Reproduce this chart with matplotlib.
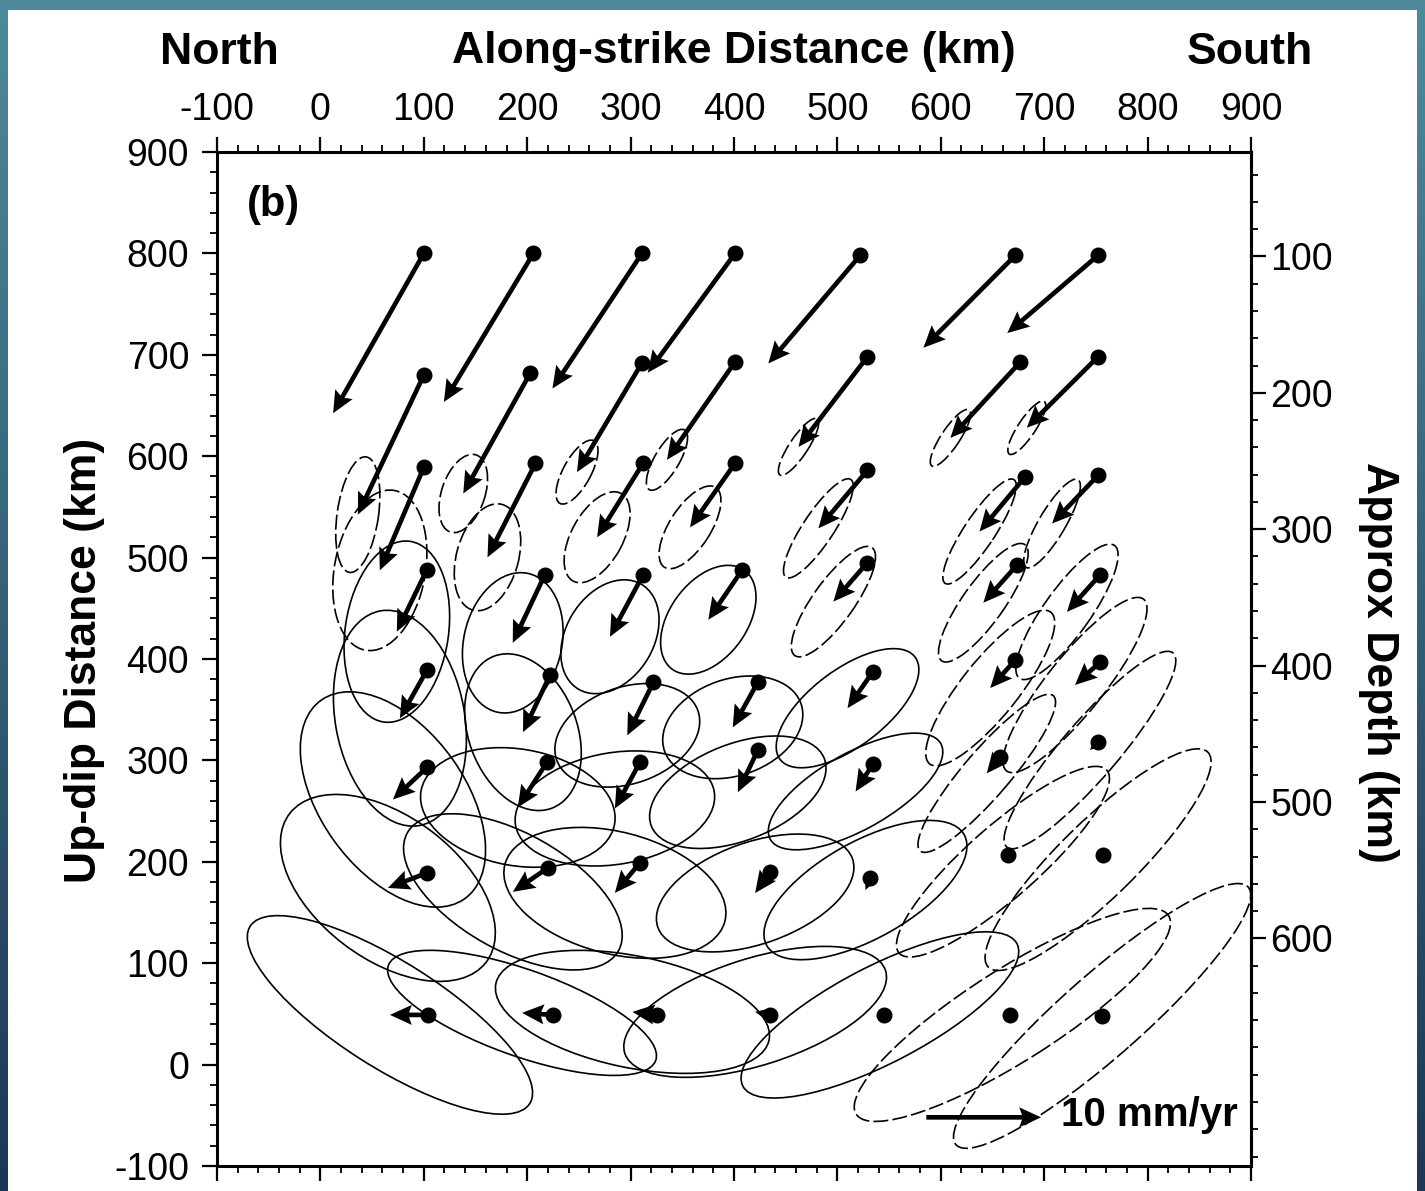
import numpy as np
import matplotlib
matplotlib.use("Agg")
import matplotlib.pyplot as plt
from matplotlib.patches import Ellipse, Rectangle
from matplotlib.ticker import MultipleLocator, FixedLocator

plt.rcParams['font.family'] = ['Liberation Sans', 'DejaVu Sans']
plt.rcParams['axes.unicode_minus'] = False

# ---- data: grid points (along-strike km, up-dip km), rates (mm/yr), error ellipses (km, deg) ----
ROW_X = [
    [100, 206, 311, 401, 522, 672, 752],
    [100, 203, 311, 401, 529, 677, 752],
    [100, 208, 312, 401, 529, 681, 752],
    [103, 217, 312, 408, 529, 674, 754],
    [103, 222, 322, 423, 534, 672, 754],
    [103, 219, 309, 423, 534, 657, 752],
    [103, 220, 309, 435, 532, 665, 757],
    [104, 225, 326, 435, 545, 667, 756],
]
ROW_Y = [
    [800, 800, 800, 800, 798, 798, 798],
    [680, 682, 692, 693, 698, 693, 698],
    [589, 593, 593, 593, 586, 579, 581],
    [488, 483, 483, 488, 495, 493, 483],
    [389, 384, 377, 377, 387, 399, 397],
    [293, 298, 298, 310, 296, 303, 318],
    [189, 194, 199, 190, 184, 207, 207],
    [49, 49, 49, 49, 49, 49, 48],
]
RATE_E = [
    [-7.9, -7.8, -7.8, -7.6, -8.0, -8.0, -7.9],
    [-5.75, -5.84, -5.66, -5.93, -6.0, -6.1, -6.2],
    [-3.83, -4.18, -4.0, -3.92, -4.27, -3.92, -4.0],
    [-2.62, -2.79, -2.88, -2.96, -2.96, -2.96, -2.88],
    [-2.35, -2.35, -2.27, -2.18, -2.18, -2.18, -2.18],
    [-2.96, -2.53, -2.18, -1.74, -1.48, -1.13, -0.7],
    [-3.4, -3.05, -2.18, -1.31, -0.44, -0.44, -0.44],
    [-3.31, -2.7, -2.18, -1.31, -0.35, 0.2, 0.0],
]
RATE_N = [
    [-14.2, -13.2, -12.0, -10.6, -9.6, -8.2, -6.9],
    [-12.4, -10.7, -9.7, -8.7, -8.0, -6.75, -6.3],
    [-9.15, -8.35, -6.57, -5.69, -5.15, -4.8, -4.27],
    [-5.5, -6.04, -5.5, -4.44, -3.46, -3.38, -3.29],
    [-4.27, -5.06, -4.71, -4.0, -3.2, -2.49, -2.04],
    [-2.84, -4.0, -4.09, -3.73, -2.4, -1.42, -0.7],
    [-1.33, -2.13, -2.67, -1.87, -1.07, -0.62, -0.44],
    [0.0, 0.18, 0.27, 0.27, 0.0, 0.0, 0.0],
]
ELL_MAJOR = [
    [0, 0, 0, 0, 0, 0, 0],
    [115, 80, 70, 68, 66, 66, 62],
    [160, 108, 98, 93, 115, 122, 100],
    [180, 140, 120, 120, 130, 140, 160],
    [215, 160, 145, 140, 165, 190, 215],
    [240, 190, 195, 180, 190, 200, 250],
    [240, 235, 220, 200, 220, 270, 300],
    [322, 275, 270, 265, 300, 360, 380],
]
ELL_MINOR = [
    [0, 0, 0, 0, 0, 0, 0],
    [40, 42, 27, 24, 18, 18, 17],
    [88, 60, 50, 40, 30, 30, 26],
    [100, 95, 85, 75, 40, 40, 45],
    [125, 105, 95, 95, 75, 55, 55],
    [140, 115, 110, 95, 75, 45, 55],
    [140, 115, 120, 100, 95, 70, 75],
    [104, 85, 110, 105, 95, 90, 80],
]
ELL_ANGLE = [
    [0, 0, 0, 0, 0, 0, 0],
    [82, 72, 62, 60, 57, 57, 57],
    [80, 75, 62, 58, 57, 57, 60],
    [82, 78, 60, 55, 55, 55, 55],
    [100, 110, 20, 20, 38, 52, 52],
    [125, 170, 10, 22, 30, 50, 50],
    [142, 150, 165, 20, 30, 42, 45],
    [-33, -20, -12, 18, 28, 33, 42],
]
REF_RATE = 10.0          # mm/yr, scale arrow
KM_PER_MM = 11.1         # plotted arrow length (km) per mm/yr

# depth (km) vs up-dip distance (km) for the right-hand axis
DEPTH_LABELS = [100, 200, 300, 400, 500, 600]


def to_depth(u):
    return 100.0 + (797.0 - np.asarray(u, dtype=float)) / 1.345


def from_depth(d):
    return 797.0 - (np.asarray(d, dtype=float) - 100.0) * 1.345


W, H = 1425, 1191
fig = plt.figure(figsize=(W / 100, H / 100), dpi=100)

# slide-style backdrop with white panel
bg = fig.add_axes([0, 0, 1, 1], zorder=-10)
top_c = np.array([0x4e, 0x8a, 0x9c]) / 255
bot_c = np.array([0x1c, 0x37, 0x55]) / 255
t = np.linspace(0, 1, 256)[:, None, None]
grad = top_c[None, None, :] * (1 - t) + bot_c[None, None, :] * t
grad = np.repeat(grad, 2, axis=1)
bg.imshow(grad, aspect='auto', extent=[0, 1, 0, 1], origin='upper')
bg.add_patch(Rectangle((8 / W, 0), (1417 - 8) / W, 1 - 10 / H,
                       facecolor='white', edgecolor='none', transform=bg.transAxes))
bg.set_xlim(0, 1)
bg.set_ylim(0, 1)
bg.axis('off')

ax = fig.add_axes([217 / W, 1 - 1166 / H, 1034 / W, 1014 / H])
ax.set_xlim(-100, 900)
ax.set_ylim(-100, 900)
ax.set_facecolor('white')

x = np.array(ROW_X, dtype=float).ravel()
y = np.array(ROW_Y, dtype=float).ravel()
ue = np.array(RATE_E, dtype=float).ravel()
vn = np.array(RATE_N, dtype=float).ravel()
maj = np.array(ELL_MAJOR, dtype=float).ravel()
mnr = np.array(ELL_MINOR, dtype=float).ravel()
ang = np.array(ELL_ANGLE, dtype=float).ravel()

nrow, ncol = len(ROW_X), len(ROW_X[0])
for r in range(nrow):
    for c in range(ncol):
        i = r * ncol + c
        if maj[i] <= 0:
            continue
        cx = x[i] + ue[i] * KM_PER_MM
        cy = y[i] + vn[i] * KM_PER_MM
        dashed = ROW_Y[r][0] >= 580 or c >= 5 or (c >= 4 and ROW_Y[r][0] >= 480)
        e = Ellipse((cx, cy), maj[i], mnr[i], angle=ang[i], fill=False,
                    edgecolor='black', lw=1.2,
                    linestyle=(0, (9, 2.5)) if dashed else '-', zorder=2)
        ax.add_patch(e)

qkw = dict(angles='xy', scale_units='xy', scale=1.0 / KM_PER_MM, color='black',
           width=0.0045, headwidth=4.3, headlength=4.7, headaxislength=4.1, zorder=4)
ax.quiver(x, y, ue, vn, **qkw)
ax.plot(x, y, 'o', color='black', ms=10.5, zorder=5)

# scale arrow
ax.quiver([586], [-52], [REF_RATE], [0], **qkw)
ax.text(716, -50, '10 mm/yr', fontsize=29, fontweight='bold', va='center', ha='left')
ax.text(-71, 848, '(b)', fontsize=30, fontweight='bold', va='center', ha='left')

# axes styling
for s in ax.spines.values():
    s.set_linewidth(2.2)
ax.xaxis.set_major_locator(MultipleLocator(100))
ax.xaxis.set_minor_locator(MultipleLocator(20))
ax.yaxis.set_major_locator(MultipleLocator(100))
ax.yaxis.set_minor_locator(MultipleLocator(20))
ax.tick_params(axis='x', which='both', top=True, bottom=True, labeltop=True,
               labelbottom=False, direction='out')
ax.tick_params(axis='y', which='both', left=True, right=False, direction='out')
ax.tick_params(which='major', length=11, width=1.6, labelsize=27, pad=6)
ax.tick_params(which='minor', length=5, width=1.3)
ax.tick_params(axis='y', which='major', pad=9)

sec = ax.secondary_yaxis('right', functions=(to_depth, from_depth))
sec.yaxis.set_major_locator(FixedLocator(DEPTH_LABELS))
sec.yaxis.set_minor_locator(FixedLocator(np.arange(40, 780, 20)))
sec.tick_params(which='major', length=11, width=1.6, labelsize=27, pad=3, direction='out')
sec.tick_params(which='minor', length=5, width=1.3, direction='out')
sec.spines['right'].set_linewidth(2.2)

# titles and axis names
fig.text(219 / W, 1 - 52 / H, 'North', fontsize=32, fontweight='bold', ha='center', va='center')
fig.text(734 / W, 1 - 52 / H, 'Along-strike Distance (km)', fontsize=32, fontweight='bold',
         ha='center', va='center')
fig.text(1250 / W, 1 - 52 / H, 'South', fontsize=32, fontweight='bold', ha='center', va='center')
fig.text(85 / W, 1 - 660 / H, 'Up-dip Distance (km)', fontsize=32, fontweight='bold',
         rotation=90, ha='center', va='center')
fig.text(1378 / W, 1 - 662 / H, 'Approx Depth (km)', fontsize=32, fontweight='bold',
         rotation=-90, ha='center', va='center')

fig.savefig('out.png', dpi=100)
